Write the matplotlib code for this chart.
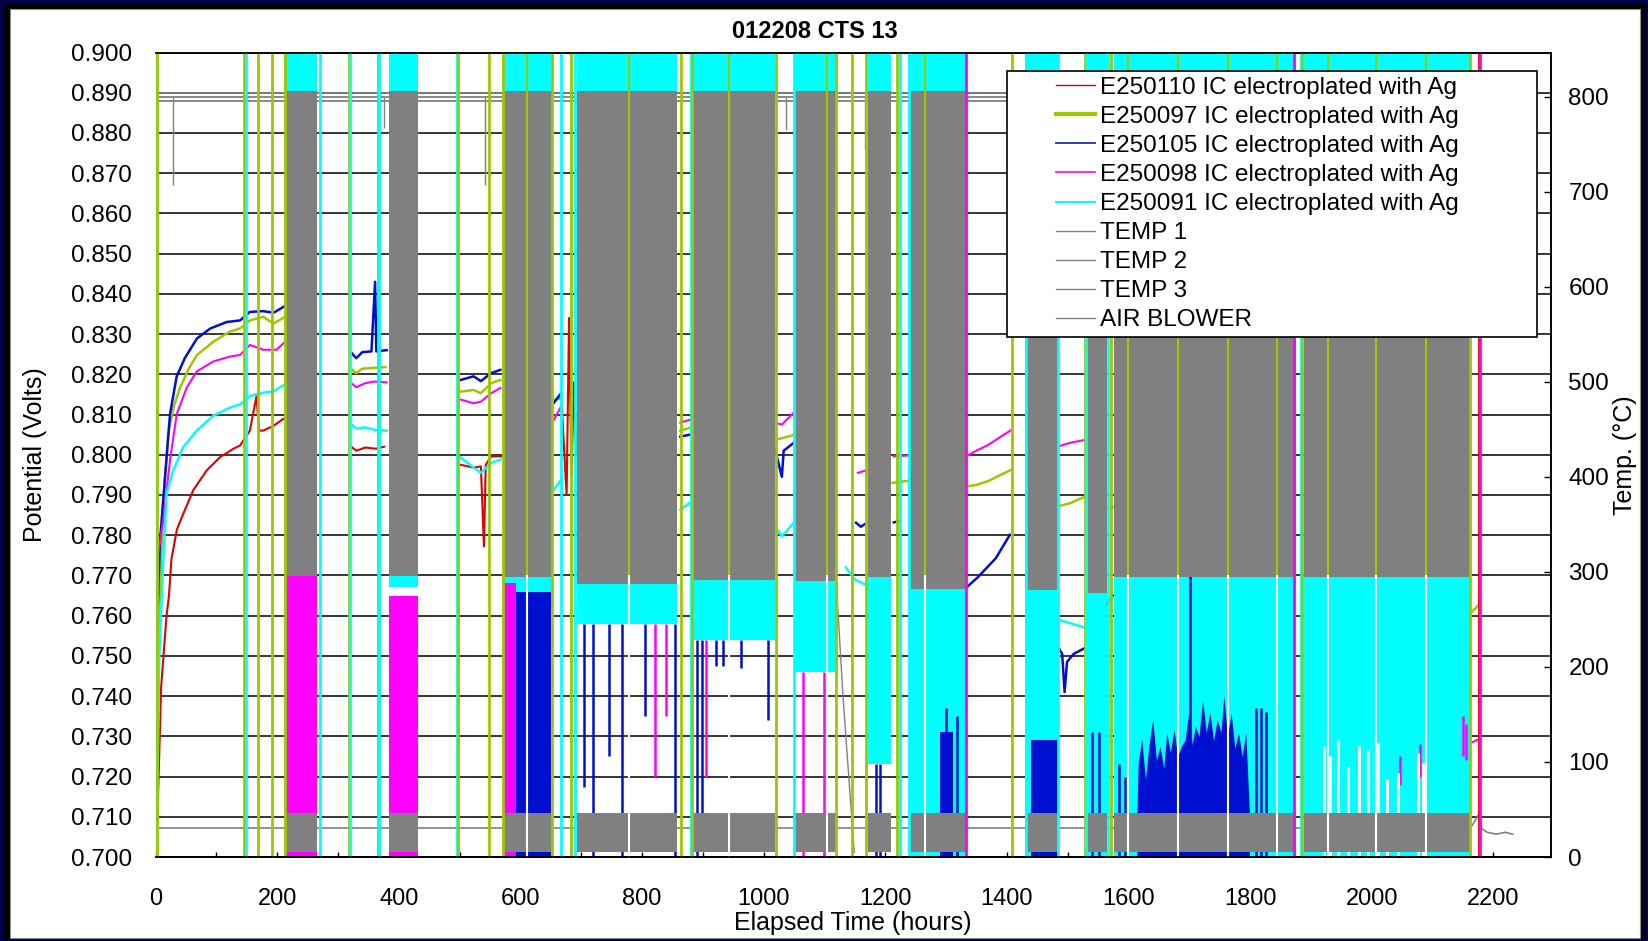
import numpy as np
import matplotlib
matplotlib.use('Agg')
import matplotlib.pyplot as plt
from matplotlib.lines import Line2D
from matplotlib.patches import Rectangle
from matplotlib.legend_handler import HandlerLine2D

plt.rcParams['font.family'] = ['Liberation Sans', 'DejaVu Sans']

nan = np.nan

# steady running between thermal cycles, potential (V) vs elapsed hours (nan = break)
red_h = [1, 5, 9, 14, 18, 22, 26, 35, 46, 62, 84, 106, 128, 139, 155, 166, 170, 177, 194, 210, nan,
         320, 330, 345, 362, 376, nan,
         502, 523, 535, 540, 543, 552, 570, nan,
         668, 676, 680, 684, 688, 692]
red_v = [0.700, 0.720, 0.742, 0.752, 0.760, 0.765, 0.774, 0.7814, 0.7855, 0.7912, 0.7961, 0.7994, 0.8015,
         0.8023, 0.8060, 0.8146, 0.8060, 0.8060, 0.8072, 0.8089, nan,
         0.8022, 0.8010, 0.8018, 0.8015, 0.8020, nan,
         0.7975, 0.7968, 0.7971, 0.7772, 0.7975, 0.7996, 0.7996, nan,
         0.812, 0.790, 0.834, 0.795, 0.818, 0.800]

green_h = [2, 6, 12, 21, 30, 40, 55, 68, 95, 122, 139, 155, 177, 194, 213, nan,
           320, 330, 340, 360, 378, nan, 502, 523, 535, 552, 567, nan, 655, 667, nan,
           863, 879, nan, 1019, 1035, 1049, nan, 1212, 1236, nan,
           1333, 1350, 1370, 1390, 1408, nan, 1485, 1505, 1529, nan, 1566, 1576, nan,
           2164, 2172, 2178]
green_v = [0.700, 0.760, 0.787, 0.8052, 0.812, 0.8166, 0.8215, 0.8248, 0.8281, 0.8306, 0.8314, 0.8334,
           0.8343, 0.8326, 0.8343, nan,
           0.8216, 0.8203, 0.8214, 0.8216, 0.8218, nan, 0.8157, 0.8161, 0.8153, 0.8178, 0.8186, nan,
           0.8137, 0.8140, nan, 0.8060, 0.8067, nan, 0.8037, 0.8043, 0.8049, nan, 0.7930, 0.7935, nan,
           0.7921, 0.7925, 0.7935, 0.7950, 0.7963, nan, 0.7872, 0.7880, 0.7896, nan, 0.7866, 0.7870, nan,
           0.7608, 0.7620, 0.7630]

blue_h = [1, 3, 7, 15.5, 23.7, 34.7, 48, 68, 90, 117, 139, 155, 177, 194, 213, nan,
          320, 330, 340, 355, 361, 363, 380, nan, 502, 523, 535, 552, 567, nan, 655, 667, nan,
          863, 879, nan, 1019, 1030, 1033, 1049, nan, 1152, 1160, 1170, nan, 1214, 1224, nan,
          1332, 1352, 1382, 1405, nan, 1485, 1491, 1495, 1499, 1510, 1529, nan, 1566, 1574]
blue_v = [0.700, 0.760, 0.7781, 0.7945, 0.8101, 0.8195, 0.8240, 0.8289, 0.8314, 0.8330, 0.8334, 0.8355,
          0.8357, 0.8353, 0.8370, nan,
          0.8257, 0.8240, 0.8255, 0.8257, 0.843, 0.8257, 0.8260, nan,
          0.8186, 0.8195, 0.8183, 0.8203, 0.8211, nan, 0.8129, 0.8153, nan,
          0.8045, 0.8050, nan, 0.8012, 0.7945, 0.8010, 0.8029, nan, 0.7831, 0.7821, 0.7831, nan,
          0.7832, 0.7835, nan, 0.7668, 0.7695, 0.7743, 0.7801, nan,
          0.752, 0.7505, 0.741, 0.7485, 0.7505, 0.752, nan, 0.763, 0.765]

mag_h = [1, 4.5, 12.7, 23.7, 34.7, 51, 67.6, 95, 122, 139, 155, 177, 199, 213, nan,
         320, 330, 345, 360, 380, nan, 502, 523, 535, 552, 567, nan, 655, 667, nan,
         863, 879, nan, 1019, 1030, 1049, nan, 1155, 1172, nan, 1214, 1236, nan,
         1333, 1350, 1370, 1390, 1408, nan, 1485, 1505, 1529, nan, 2165, 2175]
mag_v = [0.700, 0.7757, 0.7839, 0.7986, 0.8101, 0.8166, 0.8207, 0.8232, 0.8244, 0.8248, 0.8273, 0.8261,
         0.8261, 0.8281, nan,
         0.8180, 0.8168, 0.8178, 0.8182, 0.8180, nan, 0.8137, 0.8128, 0.8132, 0.8153, 0.8166, nan,
         0.8087, 0.8120, nan, 0.8080, 0.8087, nan, 0.8079, 0.8075, 0.8104, nan, 0.7955, 0.7963, nan,
         0.7996, 0.7998, nan, 0.7996, 0.8010, 0.8025, 0.8045, 0.8062, nan,
         0.8021, 0.8030, 0.8037, nan, 0.7285, 0.7292]

cyan_h = [1, 6, 12.7, 18.2, 29, 45.6, 67.6, 95, 122, 139, 155, 177, 194, 213, nan,
          320, 330, 345, 360, 380, nan, 502, 523, 535, 552, 567, nan, 655, 667, nan,
          863, 879, nan, 1019, 1030, 1049, nan, 1135, 1150, 1170, nan, 1485, 1529]
cyan_v = [0.700, 0.750, 0.774, 0.7904, 0.7961, 0.8019, 0.8060, 0.8097, 0.8117, 0.8125, 0.8146, 0.8154,
          0.8158, 0.8175, nan,
          0.8078, 0.8065, 0.8068, 0.8062, 0.8060, nan, 0.7993, 0.7968, 0.7955, 0.7980, 0.7988, nan,
          0.7913, 0.7938, nan, 0.7863, 0.7881, nan, 0.7822, 0.7797, 0.7830, nan,
          0.7720, 0.7690, 0.7675, nan, 0.759, 0.757]

# thermal cycling blocks (hours), temperature swing (C) and lowest cyan excursion (V)
blk_start = [214, 384, 571, 693, 884, 1052, 1172, 1239, 1430, 1531, 1577, 1889]
blk_end = [266, 431, 652, 858, 1019, 1119, 1210, 1333, 1486, 1565, 1875, 2162]
blk_temp_lo = [296, 296, 295, 287, 292, 290, 295, 282, 281, 278, 295, 295]
blk_temp_hi = [806, 806, 806, 806, 806, 806, 806, 806, 806, 806, 806, 806]
blk_cyan_lo = [0.771, 0.767, 0.762, 0.758, 0.754, 0.746, 0.723, 0.699, 0.699, 0.699, 0.699, 0.699]
blk_pot_hi = 0.905
blower_lo, blower_hi = 5, 46

# lower excursions of other cells inside cycling blocks
mag_fill_start = [214, 384, 571]
mag_fill_end = [266, 431, 592]
mag_fill_top = [0.770, 0.765, 0.768]
blue_fill_start = [592, 1290, 1440]
blue_fill_end = [650, 1312, 1484]
blue_fill_top = [0.766, 0.731, 0.729]
blue_dense_h = [1614, 1616, 1622, 1628, 1634, 1640, 1646, 1652, 1658, 1663, 1669, 1675, 1681, 1687,
                1693, 1699, 1705, 1710, 1716, 1722, 1728, 1734, 1740, 1746, 1752, 1757, 1763, 1769,
                1775, 1781, 1787, 1793, 1799]
blue_dense_top = [0.711, 0.7234, 0.7292, 0.7193, 0.728, 0.7342, 0.724, 0.7275, 0.722, 0.7309, 0.726,
                  0.7317, 0.725, 0.7275, 0.729, 0.7358, 0.728, 0.7325, 0.730, 0.7391, 0.731, 0.7358,
                  0.729, 0.7342, 0.731, 0.7400, 0.730, 0.7358, 0.727, 0.7309, 0.725, 0.7309, 0.711]

blue_spk_h = [705, 720, 746, 767, 805, 855, 890, 899, 922, 934, 963, 1007, 1185, 1192,
              1300, 1318, 1540, 1552, 1585, 1595, 1702, 1810, 1818, 1827]
blue_spk_lo = [0.7175, 0.700, 0.725, 0.700, 0.735, 0.700, 0.700, 0.711, 0.7474, 0.7474, 0.747, 0.734,
               0.699, 0.699, 0.699, 0.699, 0.699, 0.699, 0.699, 0.699, 0.699, 0.699, 0.699, 0.699]
blue_spk_hi = [0.758, 0.758, 0.758, 0.758, 0.758, 0.758, 0.754, 0.754, 0.754, 0.754, 0.754, 0.754,
               0.723, 0.723, 0.737, 0.735, 0.731, 0.731, 0.723, 0.720, 0.808, 0.737, 0.737, 0.736]
mag_spk_h = [822, 840, 905, 1064, 1100, 2047, 2079, 2150, 2156]
mag_spk_lo = [0.720, 0.735, 0.720, 0.699, 0.699, 0.718, 0.720, 0.725, 0.724]
mag_spk_hi = [0.758, 0.758, 0.754, 0.746, 0.746, 0.725, 0.728, 0.735, 0.733]
white_spk_h = [1921, 1932, 1944, 1961, 1979, 1994, 2011, 2026, 2044, 2076, 2085]
white_spk_top = [0.7275, 0.7250, 0.7292, 0.7226, 0.7275, 0.7267, 0.7284, 0.7193, 0.7209, 0.7259, 0.7234]

# full height transients when logging restarted
event_h = [0, 1.5, 145, 149, 169, 191, 213, 271, 318, 320, 366, 368, 495, 497, 549, 571, 652, 667,
           684, 690, 864, 880, 882, 1020, 1050, 1119, 1145, 1169, 1219, 1224, 1239, 1333, 1408,
           1431, 1484, 1529, 1531, 1566, 1571, 1872, 1884, 1886, 2162, 2177, 2179]
event_cell = ['c', 'g', 'g', 'c', 'g', 'g', 'g', 'c', 'g', 'c', 'g', 'c', 'c', 'g', 'g', 'g', 'g', 'c',
              'g', 'c', 'g', 'c', 'g', 'g', 'c', 'g', 'g', 'g', 'g', 'c', 'c', 'm', 'g',
              'c', 'c', 'g', 'c', 'c', 'g', 'm', 'c', 'g', 'g', 'r', 'm']
gap_h = [611, 778, 943, 1104, 1265, 1599, 1681, 1763, 1845, 1928, 2007, 2089]
gap_split_v = 0.770

# furnace temperatures (C)
temp_levels = [804, 800, 796]
blower_level = 30
temp_dip_h = [29, 375, 542, 1037, 1166]
temp_dip_T = [707, 767, 707, 765, 744]
cool_h = [1119, 1124, 1131, 1140, 1149]
cool_T = [293, 240, 165, 85, 5]
blower_tail_h = [2162, 2170, 2177, 2181, 2190, 2205, 2220, 2232]
blower_tail_T = [30, 38, 46, 30, 26, 24, 26, 24]

RED, GREEN, BLUE, MAG, CYAN, GRAY = '#e00000', '#9cc800', '#0010d0', '#ff00ff', '#00ffff', '#808080'
cmap = {'r': RED, 'g': GREEN, 'b': BLUE, 'm': MAG, 'c': CYAN}

W, H = 1649, 941
fig = plt.figure(figsize=(W / 100, H / 100), dpi=100)
fig.patch.set_facecolor('#00004e')
fig.patches.append(Rectangle((3 / W, 1 / H), 1643 / W, 937 / H, transform=fig.transFigure,
                             facecolor='black', edgecolor='none', zorder=-5))
fig.patches.append(Rectangle((10 / W, 3 / H), 1630 / W, 929 / H, transform=fig.transFigure,
                             facecolor='white', edgecolor='#909090', lw=0.8, zorder=-4))

ax = fig.add_axes([155.6 / W, (H - 857) / H, (1551 - 155.6) / W, (857 - 52.5) / H])
ax2 = ax.twinx()

# cycling blocks: cyan oscillation underneath everything
for s, e, clo in zip(blk_start, blk_end, blk_cyan_lo):
    ax.fill_between([s, e], clo, blk_pot_hi, color=CYAN, lw=0, zorder=1.5)
for s, e, t in zip(mag_fill_start, mag_fill_end, mag_fill_top):
    ax.fill_between([s, e], 0.699, t, color=MAG, lw=0, zorder=1.8)
for s, e, t in zip(blue_fill_start, blue_fill_end, blue_fill_top):
    ax.fill_between([s, e], 0.699, t, color=BLUE, lw=0, zorder=1.8)
ax.fill_between(blue_dense_h, 0.699, blue_dense_top, color=BLUE, lw=0, zorder=1.8)
ax.vlines(blue_spk_h, blue_spk_lo, blue_spk_hi, color=BLUE, lw=1.8, zorder=1.9)
ax.vlines(mag_spk_h, mag_spk_lo, mag_spk_hi, color=MAG, lw=1.8, zorder=1.9)
ax.vlines(white_spk_h, 0.699, white_spk_top, color='white', lw=2.2, zorder=1.9)

ax.plot(red_h, red_v, color=RED, lw=1.5, zorder=3)
ax.plot(green_h, green_v, color=GREEN, lw=1.8, zorder=3)
ax.plot(blue_h, blue_v, color=BLUE, lw=1.8, zorder=3)
ax.plot(mag_h, mag_v, color=MAG, lw=1.5, zorder=3)
ax.plot(cyan_h, cyan_v, color=CYAN, lw=1.8, zorder=3)

# temperatures on the right axis
steady_start = [0] + blk_end[:-1]
steady_end = blk_start
for lvl in temp_levels:
    ax2.hlines([lvl] * len(steady_start), steady_start, steady_end, color=GRAY, lw=1.3)
ax2.hlines([blower_level] * len(steady_start), steady_start, steady_end, color=GRAY, lw=1.2)
ax2.vlines(temp_dip_h, temp_dip_T, temp_levels[1], color=GRAY, lw=1.0)
ax2.plot(cool_h, cool_T, color=GRAY, lw=1.0)
ax2.plot(blower_tail_h, blower_tail_T, color=GRAY, lw=1.2)
for s, e, tlo, thi in zip(blk_start, blk_end, blk_temp_lo, blk_temp_hi):
    ax2.fill_between([s, e], tlo, thi, color=GRAY, lw=0)
    ax2.fill_between([s, e], blower_lo, blower_hi, color=GRAY, lw=0)

# restart transients drawn over everything
ax2.vlines(gap_h, gap_split_v, blk_pot_hi, color=GREEN, lw=1.5, transform=ax.transData)
ax2.vlines(gap_h, 0.699, gap_split_v, color='white', lw=1.5, transform=ax.transData)
for h, c in zip(event_h, event_cell):
    ax2.axvline(h, color=cmap[c], lw=2.0)

ax.set_xlim(0, 2295)
ax.set_ylim(0.700, 0.900)
ax2.set_ylim(0, 846.8)

ax.set_yticks(np.arange(0.700, 0.9001, 0.010))
ax.set_yticklabels(['%.3f' % v for v in np.arange(0.700, 0.9001, 0.010)])
ax.set_xticks(range(0, 2201, 200))
ax.set_xticks(range(100, 2201, 200), minor=True)
ax.yaxis.grid(True, color='black', lw=1.1)
ax.set_axisbelow(True)
ax.tick_params(axis='y', length=0, labelsize=17.5, pad=17)
ax.tick_params(axis='x', which='both', direction='in', length=3.6, width=1, labelsize=17, pad=22)
ax2.set_yticks(range(0, 801, 100))
ax2.tick_params(axis='y', direction='in', length=5, width=1, labelsize=17.5, pad=12.5)
for a in (ax, ax2):
    a.spines['left'].set_visible(False)
    a.spines['right'].set_linewidth(1.2)
    a.spines['bottom'].set_linewidth(1.2)
    a.spines['top'].set_linewidth(1.1)

fig.text(815 / W, 1 - 32 / H, '012208 CTS 13', ha='center', va='center', fontsize=17, fontweight='bold')
fig.text(35 / W, 1 - 455 / H, 'Potential (Volts)', rotation=90, ha='center', va='center', fontsize=18)
fig.text(1625 / W, 1 - 455 / H, 'Temp. (\u00b0C)', rotation=90, ha='center', va='center', fontsize=18)
fig.text(853 / W, 1 - 930 / H, 'Elapsed Time (hours)', ha='center', va='baseline', fontsize=18)


class RightLine(HandlerLine2D):
    # handle drawn only over the right half of the handle box
    def create_artists(self, legend, orig_handle, xdescent, ydescent, width, height, fontsize, trans):
        arts = super().create_artists(legend, orig_handle, xdescent, ydescent, width, height, fontsize, trans)
        for a in arts:
            xd = np.asarray(a.get_xdata(), dtype=float)
            if len(xd) > 1:
                a.set_xdata(np.linspace(xd[0] + 0.52 * (xd[-1] - xd[0]), xd[-1], len(xd)))
        return arts


labels = ['E250110 IC electroplated with Ag', 'E250097 IC electroplated with Ag',
          'E250105 IC electroplated with Ag', 'E250098 IC electroplated with Ag',
          'E250091 IC electroplated with Ag', 'TEMP 1', 'TEMP 2', 'TEMP 3', 'AIR BLOWER']
handles = [Line2D([], [], color=RED, lw=1.0), Line2D([], [], color=GREEN, lw=3.0),
           Line2D([], [], color='#2030b0', lw=1.3), Line2D([], [], color=MAG, lw=1.2),
           Line2D([], [], color=CYAN, lw=1.5), Line2D([], [], color=GRAY, lw=1.0),
           Line2D([], [], color=GRAY, lw=1.0), Line2D([], [], color=GRAY, lw=1.0),
           Line2D([], [], color=GRAY, lw=1.0)]
leg = ax2.legend(handles, labels, loc='upper left', mode='expand',
                 bbox_to_anchor=(1006.6 / W, (H - 335) / H, (1537.4 - 1006.6) / W, (335 - 70.7) / H),
                 bbox_transform=fig.transFigure, fontsize=17.5, frameon=True, fancybox=False,
                 edgecolor='black', framealpha=1, borderpad=0.25, labelspacing=0.29,
                 handlelength=3.4, handletextpad=0.2, borderaxespad=0,
                 handler_map={Line2D: RightLine()})
leg.get_frame().set_linewidth(1.2)

fig.savefig('out.png', dpi=100, facecolor=fig.get_facecolor())
